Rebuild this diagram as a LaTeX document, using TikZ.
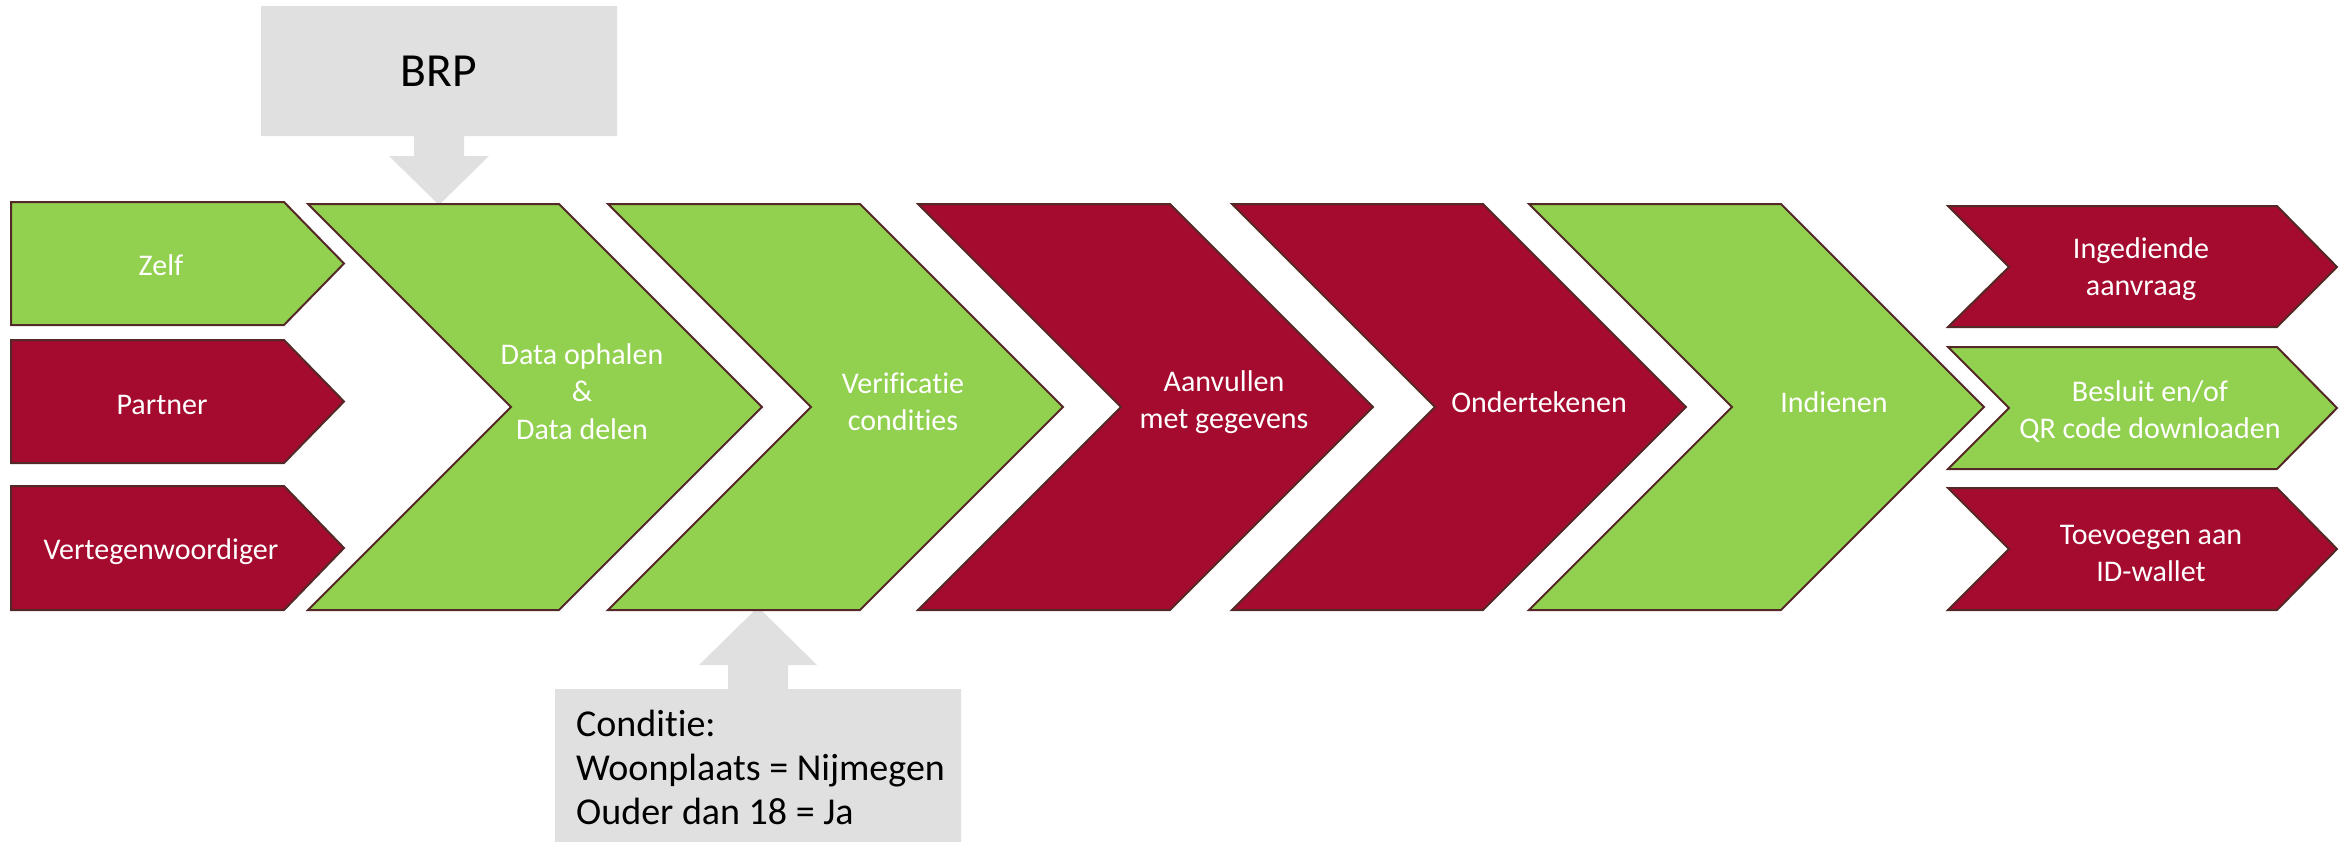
\documentclass[tikz,border=0pt]{standalone}
\usepackage{fontspec}
\setmainfont{Carlito}[Ligatures={NoCommon}]
\definecolor{pgreen}{HTML}{92D050}
\definecolor{pred}{HTML}{A50B2E}
\definecolor{pgrey}{HTML}{E0E0E0}
\definecolor{pline}{HTML}{552828}
\tikzset{
  greenshape/.style={fill=pgreen, draw=pline, line width=2pt, line join=miter},
  redshape/.style={fill=pred, draw=pline, line width=2pt, line join=miter},
  greyshape/.style={fill=pgrey, draw=none},
  wlabel/.style={text=white, font=\fontsize{30}{37.5}\selectfont, inner sep=0pt, anchor=base},
  blabel/.style={text=black, inner sep=0pt}
}
\begin{document}
\begin{tikzpicture}[x=1pt,y=-1pt]
\useasboundingbox (0,0) rectangle (2351,841);
% grey call-outs with block arrows
\fill[greyshape] (261,6) -- (617,6) -- (617,136) -- (464,136) -- (464,156) -- (489,156)
  -- (439,205) -- (389,156) -- (414,156) -- (414,136) -- (261,136) -- cycle;
\fill[greyshape] (555,689) -- (728,689) -- (728,665) -- (699,665) -- (758,607) -- (817,665)
  -- (788,665) -- (788,689) -- (961,689) -- (961,850) -- (555,850) -- cycle;
% left pentagons
\draw[greenshape] (11,202) -- (284,202) -- (344,263.5) -- (284,325) -- (11,325) -- cycle;
\draw[redshape] (11,340) -- (284,340) -- (344,401.5) -- (284,463) -- (11,463) -- cycle;
\draw[redshape] (11,486) -- (284,486) -- (344,548) -- (284,610) -- (11,610) -- cycle;
% main chevrons
\draw[greenshape] (308,204) -- (559,204) -- (762,407) -- (559,610) -- (308,610) -- (511,407) -- cycle;
\draw[greenshape] (608,204) -- (860,204) -- (1063,407) -- (860,610) -- (608,610) -- (811,407) -- cycle;
\draw[redshape] (918,204) -- (1170,204) -- (1373,407) -- (1170,610) -- (918,610) -- (1121,407) -- cycle;
\draw[redshape] (1232,204) -- (1483,204) -- (1686,407) -- (1483,610) -- (1232,610) -- (1435,407) -- cycle;
\draw[greenshape] (1529,204) -- (1781,204) -- (1984,407) -- (1781,610) -- (1529,610) -- (1732,407) -- cycle;
% right chevrons
\draw[redshape] (1948,206) -- (2277,206) -- (2337,267) -- (2277,327) -- (1948,327) -- (2009,267) -- cycle;
\draw[greenshape] (1948,347) -- (2277,347) -- (2337,408) -- (2277,469) -- (1948,469) -- (2009,408) -- cycle;
\draw[redshape] (1948,488) -- (2277,488) -- (2337,549) -- (2277,610) -- (1948,610) -- (2009,549) -- cycle;
% texts
\node[blabel, font=\fontsize{47.5}{57}\selectfont, anchor=base] (brp) at (439,86) {BRP};
\node[blabel, font=\fontsize{38}{44}\selectfont, anchor=base west] (cond) at (576,736)
  {\begin{tabular}[t]{@{}l@{}}Conditie:\\Woonplaats = Nijmegen\\Ouder dan 18 = Ja\end{tabular}};
\node[wlabel] (zelf) at (161,275) {Zelf};
\node[wlabel] (partner) at (162,414) {Partner};
\node[wlabel] (verteg) at (161,559) {Vertegenwoordiger};
\node[wlabel] (data) at (582,364) {\begin{tabular}[t]{@{}c@{}}Data ophalen\\\&\\Data delen\end{tabular}};
\node[wlabel] (verif) at (903,393) {\begin{tabular}[t]{@{}c@{}}Verificatie\\condities\end{tabular}};
\node[wlabel] (aanv) at (1224,391) {\begin{tabular}[t]{@{}c@{}}Aanvullen\\met gegevens\end{tabular}};
\node[wlabel] (onder) at (1539,412) {Ondertekenen};
\node[wlabel] (indien) at (1834,412) {Indienen};
\node[wlabel] (inged) at (2141,258) {\begin{tabular}[t]{@{}c@{}}Ingediende\\aanvraag\end{tabular}};
\node[wlabel] (besl) at (2150,401) {\begin{tabular}[t]{@{}c@{}}Besluit en/of\\QR code downloaden\end{tabular}};
\node[wlabel] (toev) at (2151,544) {\begin{tabular}[t]{@{}c@{}}Toevoegen aan\\ID-wallet\end{tabular}};
\end{tikzpicture}
\end{document}
